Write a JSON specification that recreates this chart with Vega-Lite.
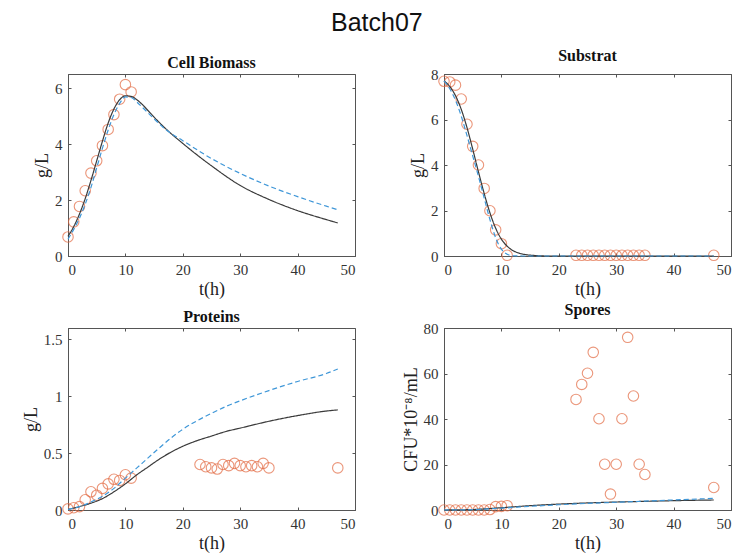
{
  "$schema": "https://vega.github.io/schema/vega-lite/v6.json",
  "padding": {"left": 21, "top": 10, "right": 5, "bottom": 5},
  "background": "white",
  "title": {"text": "Batch07", "font": "Liberation Sans", "fontSize": 25, "fontWeight": "normal", "color": "#111", "anchor": "middle", "offset": 12},
  "datasets": {
    "obs": [
      {"p": "B", "t": 0, "y": 0.68}, {"p": "B", "t": 1, "y": 1.22}, {"p": "B", "t": 2, "y": 1.77}, {"p": "B", "t": 3, "y": 2.33},
      {"p": "B", "t": 4, "y": 2.96}, {"p": "B", "t": 5, "y": 3.40}, {"p": "B", "t": 6, "y": 3.94}, {"p": "B", "t": 7, "y": 4.52},
      {"p": "B", "t": 8, "y": 5.05}, {"p": "B", "t": 9, "y": 5.60}, {"p": "B", "t": 10, "y": 6.12}, {"p": "B", "t": 11, "y": 5.86},
      {"p": "S", "t": 0, "y": 7.68}, {"p": "S", "t": 1, "y": 7.65}, {"p": "S", "t": 2, "y": 7.51}, {"p": "S", "t": 3, "y": 6.9},
      {"p": "S", "t": 4, "y": 5.79}, {"p": "S", "t": 5, "y": 4.82}, {"p": "S", "t": 6, "y": 4.0}, {"p": "S", "t": 7, "y": 2.97},
      {"p": "S", "t": 8, "y": 1.99}, {"p": "S", "t": 9, "y": 1.15}, {"p": "S", "t": 10, "y": 0.54}, {"p": "S", "t": 11, "y": 0.03},
      {"p": "S", "t": 23, "y": 0.03}, {"p": "S", "t": 24, "y": 0.03}, {"p": "S", "t": 25, "y": 0.03}, {"p": "S", "t": 26, "y": 0.03},
      {"p": "S", "t": 27, "y": 0.03}, {"p": "S", "t": 28, "y": 0.03}, {"p": "S", "t": 29, "y": 0.03}, {"p": "S", "t": 30, "y": 0.03},
      {"p": "S", "t": 31, "y": 0.03}, {"p": "S", "t": 32, "y": 0.03}, {"p": "S", "t": 33, "y": 0.03}, {"p": "S", "t": 34, "y": 0.03},
      {"p": "S", "t": 35, "y": 0.03}, {"p": "S", "t": 47, "y": 0.03},
      {"p": "P", "t": 0, "y": 0.01}, {"p": "P", "t": 1, "y": 0.02}, {"p": "P", "t": 2, "y": 0.03}, {"p": "P", "t": 3, "y": 0.09},
      {"p": "P", "t": 4, "y": 0.16}, {"p": "P", "t": 5, "y": 0.13}, {"p": "P", "t": 6, "y": 0.19}, {"p": "P", "t": 7, "y": 0.23},
      {"p": "P", "t": 8, "y": 0.27}, {"p": "P", "t": 9, "y": 0.26}, {"p": "P", "t": 10, "y": 0.31}, {"p": "P", "t": 11, "y": 0.28},
      {"p": "P", "t": 23, "y": 0.40}, {"p": "P", "t": 24, "y": 0.38}, {"p": "P", "t": 25, "y": 0.37}, {"p": "P", "t": 26, "y": 0.36},
      {"p": "P", "t": 27, "y": 0.40}, {"p": "P", "t": 28, "y": 0.39}, {"p": "P", "t": 29, "y": 0.41}, {"p": "P", "t": 30, "y": 0.39},
      {"p": "P", "t": 31, "y": 0.38}, {"p": "P", "t": 32, "y": 0.39}, {"p": "P", "t": 33, "y": 0.38}, {"p": "P", "t": 34, "y": 0.41},
      {"p": "P", "t": 35, "y": 0.37}, {"p": "P", "t": 47, "y": 0.37},
      {"p": "Sp", "t": 0, "y": 0}, {"p": "Sp", "t": 1, "y": 0}, {"p": "Sp", "t": 2, "y": 0}, {"p": "Sp", "t": 3, "y": 0},
      {"p": "Sp", "t": 4, "y": 0}, {"p": "Sp", "t": 5, "y": 0}, {"p": "Sp", "t": 6, "y": 0}, {"p": "Sp", "t": 7, "y": 0},
      {"p": "Sp", "t": 8, "y": 0.2}, {"p": "Sp", "t": 9, "y": 1.5}, {"p": "Sp", "t": 10, "y": 1.6}, {"p": "Sp", "t": 11, "y": 1.9},
      {"p": "Sp", "t": 23, "y": 48.6}, {"p": "Sp", "t": 24, "y": 55.2}, {"p": "Sp", "t": 25, "y": 60.1}, {"p": "Sp", "t": 26, "y": 69.3},
      {"p": "Sp", "t": 27, "y": 40.1}, {"p": "Sp", "t": 28, "y": 20.1}, {"p": "Sp", "t": 29, "y": 7.0}, {"p": "Sp", "t": 30, "y": 20.1},
      {"p": "Sp", "t": 31, "y": 40.1}, {"p": "Sp", "t": 32, "y": 75.9}, {"p": "Sp", "t": 33, "y": 50.1}, {"p": "Sp", "t": 34, "y": 20.1},
      {"p": "Sp", "t": 35, "y": 15.6}, {"p": "Sp", "t": 47, "y": 9.9}
    ],
    "fit": [
      {"p": "B", "m": "m1", "t": 0, "y": 0.70}, {"p": "B", "m": "m1", "t": 1, "y": 1.05}, {"p": "B", "m": "m1", "t": 2, "y": 1.50},
      {"p": "B", "m": "m1", "t": 3, "y": 2.05}, {"p": "B", "m": "m1", "t": 4, "y": 2.70}, {"p": "B", "m": "m1", "t": 5, "y": 3.40},
      {"p": "B", "m": "m1", "t": 6, "y": 4.10}, {"p": "B", "m": "m1", "t": 7, "y": 4.75}, {"p": "B", "m": "m1", "t": 8, "y": 5.25},
      {"p": "B", "m": "m1", "t": 9, "y": 5.58}, {"p": "B", "m": "m1", "t": 10, "y": 5.72}, {"p": "B", "m": "m1", "t": 11, "y": 5.70},
      {"p": "B", "m": "m1", "t": 12, "y": 5.58}, {"p": "B", "m": "m1", "t": 13, "y": 5.40}, {"p": "B", "m": "m1", "t": 14, "y": 5.18},
      {"p": "B", "m": "m1", "t": 15, "y": 4.96}, {"p": "B", "m": "m1", "t": 17, "y": 4.55}, {"p": "B", "m": "m1", "t": 20, "y": 4.02},
      {"p": "B", "m": "m1", "t": 25, "y": 3.22}, {"p": "B", "m": "m1", "t": 30, "y": 2.52}, {"p": "B", "m": "m1", "t": 35, "y": 2.02},
      {"p": "B", "m": "m1", "t": 40, "y": 1.62}, {"p": "B", "m": "m1", "t": 45, "y": 1.30}, {"p": "B", "m": "m1", "t": 47, "y": 1.18},
      {"p": "B", "m": "m2", "t": 0, "y": 0.60}, {"p": "B", "m": "m2", "t": 1, "y": 0.95}, {"p": "B", "m": "m2", "t": 2, "y": 1.35},
      {"p": "B", "m": "m2", "t": 3, "y": 1.85}, {"p": "B", "m": "m2", "t": 4, "y": 2.45}, {"p": "B", "m": "m2", "t": 5, "y": 3.15},
      {"p": "B", "m": "m2", "t": 6, "y": 3.85}, {"p": "B", "m": "m2", "t": 7, "y": 4.50}, {"p": "B", "m": "m2", "t": 8, "y": 5.05},
      {"p": "B", "m": "m2", "t": 9, "y": 5.45}, {"p": "B", "m": "m2", "t": 10, "y": 5.68}, {"p": "B", "m": "m2", "t": 11, "y": 5.66},
      {"p": "B", "m": "m2", "t": 12, "y": 5.50}, {"p": "B", "m": "m2", "t": 13, "y": 5.30}, {"p": "B", "m": "m2", "t": 14, "y": 5.10},
      {"p": "B", "m": "m2", "t": 15, "y": 4.90}, {"p": "B", "m": "m2", "t": 17, "y": 4.52}, {"p": "B", "m": "m2", "t": 20, "y": 4.12},
      {"p": "B", "m": "m2", "t": 25, "y": 3.48}, {"p": "B", "m": "m2", "t": 30, "y": 2.95}, {"p": "B", "m": "m2", "t": 35, "y": 2.50},
      {"p": "B", "m": "m2", "t": 40, "y": 2.12}, {"p": "B", "m": "m2", "t": 45, "y": 1.78}, {"p": "B", "m": "m2", "t": 47, "y": 1.65},
      {"p": "S", "m": "m1", "t": 0, "y": 7.70}, {"p": "S", "m": "m1", "t": 1, "y": 7.45}, {"p": "S", "m": "m1", "t": 2, "y": 7.05},
      {"p": "S", "m": "m1", "t": 3, "y": 6.45}, {"p": "S", "m": "m1", "t": 4, "y": 5.65}, {"p": "S", "m": "m1", "t": 5, "y": 4.70},
      {"p": "S", "m": "m1", "t": 6, "y": 3.70}, {"p": "S", "m": "m1", "t": 7, "y": 2.75}, {"p": "S", "m": "m1", "t": 8, "y": 1.90},
      {"p": "S", "m": "m1", "t": 9, "y": 1.22}, {"p": "S", "m": "m1", "t": 10, "y": 0.74}, {"p": "S", "m": "m1", "t": 11, "y": 0.43},
      {"p": "S", "m": "m1", "t": 12, "y": 0.24}, {"p": "S", "m": "m1", "t": 13, "y": 0.13}, {"p": "S", "m": "m1", "t": 14, "y": 0.07},
      {"p": "S", "m": "m1", "t": 16, "y": 0.02}, {"p": "S", "m": "m1", "t": 18, "y": 0.0}, {"p": "S", "m": "m1", "t": 47, "y": 0.0},
      {"p": "S", "m": "m2", "t": 0, "y": 7.70}, {"p": "S", "m": "m2", "t": 1, "y": 7.35}, {"p": "S", "m": "m2", "t": 2, "y": 6.85},
      {"p": "S", "m": "m2", "t": 3, "y": 6.15}, {"p": "S", "m": "m2", "t": 4, "y": 5.30}, {"p": "S", "m": "m2", "t": 5, "y": 4.40},
      {"p": "S", "m": "m2", "t": 6, "y": 3.50}, {"p": "S", "m": "m2", "t": 7, "y": 2.55}, {"p": "S", "m": "m2", "t": 8, "y": 1.60},
      {"p": "S", "m": "m2", "t": 9, "y": 0.80}, {"p": "S", "m": "m2", "t": 10, "y": 0.30}, {"p": "S", "m": "m2", "t": 11, "y": 0.08},
      {"p": "S", "m": "m2", "t": 12, "y": 0.01}, {"p": "S", "m": "m2", "t": 14, "y": 0.0}, {"p": "S", "m": "m2", "t": 47, "y": 0.0},
      {"p": "P", "m": "m1", "t": 0, "y": 0.005}, {"p": "P", "m": "m1", "t": 2, "y": 0.03}, {"p": "P", "m": "m1", "t": 4, "y": 0.06},
      {"p": "P", "m": "m1", "t": 6, "y": 0.10}, {"p": "P", "m": "m1", "t": 8, "y": 0.16}, {"p": "P", "m": "m1", "t": 10, "y": 0.23},
      {"p": "P", "m": "m1", "t": 12, "y": 0.31}, {"p": "P", "m": "m1", "t": 14, "y": 0.38}, {"p": "P", "m": "m1", "t": 16, "y": 0.45},
      {"p": "P", "m": "m1", "t": 18, "y": 0.51}, {"p": "P", "m": "m1", "t": 20, "y": 0.56}, {"p": "P", "m": "m1", "t": 22.5, "y": 0.61},
      {"p": "P", "m": "m1", "t": 25, "y": 0.65}, {"p": "P", "m": "m1", "t": 27.5, "y": 0.69},
      {"p": "P", "m": "m1", "t": 30, "y": 0.72}, {"p": "P", "m": "m1", "t": 35, "y": 0.78}, {"p": "P", "m": "m1", "t": 40, "y": 0.83},
      {"p": "P", "m": "m1", "t": 45, "y": 0.87}, {"p": "P", "m": "m1", "t": 47, "y": 0.88},
      {"p": "P", "m": "m2", "t": 0, "y": 0.005}, {"p": "P", "m": "m2", "t": 2, "y": 0.03}, {"p": "P", "m": "m2", "t": 4, "y": 0.07},
      {"p": "P", "m": "m2", "t": 6, "y": 0.12}, {"p": "P", "m": "m2", "t": 8, "y": 0.19}, {"p": "P", "m": "m2", "t": 10, "y": 0.28},
      {"p": "P", "m": "m2", "t": 12, "y": 0.37}, {"p": "P", "m": "m2", "t": 14, "y": 0.46}, {"p": "P", "m": "m2", "t": 16, "y": 0.55},
      {"p": "P", "m": "m2", "t": 18, "y": 0.635}, {"p": "P", "m": "m2", "t": 20, "y": 0.71}, {"p": "P", "m": "m2", "t": 22.5, "y": 0.785},
      {"p": "P", "m": "m2", "t": 25, "y": 0.85}, {"p": "P", "m": "m2", "t": 27.5, "y": 0.91},
      {"p": "P", "m": "m2", "t": 30, "y": 0.96}, {"p": "P", "m": "m2", "t": 35, "y": 1.05}, {"p": "P", "m": "m2", "t": 40, "y": 1.13},
      {"p": "P", "m": "m2", "t": 45, "y": 1.20}, {"p": "P", "m": "m2", "t": 47, "y": 1.24},
      {"p": "Sp", "m": "m1", "t": 0, "y": 0}, {"p": "Sp", "m": "m1", "t": 5, "y": 0.2}, {"p": "Sp", "m": "m1", "t": 10, "y": 1.0},
      {"p": "Sp", "m": "m1", "t": 15, "y": 1.9}, {"p": "Sp", "m": "m1", "t": 20, "y": 2.6}, {"p": "Sp", "m": "m1", "t": 25, "y": 3.1},
      {"p": "Sp", "m": "m1", "t": 30, "y": 3.5}, {"p": "Sp", "m": "m1", "t": 35, "y": 3.8}, {"p": "Sp", "m": "m1", "t": 40, "y": 4.1},
      {"p": "Sp", "m": "m1", "t": 47, "y": 4.4},
      {"p": "Sp", "m": "m2", "t": 0, "y": 0}, {"p": "Sp", "m": "m2", "t": 5, "y": 0.15}, {"p": "Sp", "m": "m2", "t": 10, "y": 0.8},
      {"p": "Sp", "m": "m2", "t": 15, "y": 1.6}, {"p": "Sp", "m": "m2", "t": 20, "y": 2.3}, {"p": "Sp", "m": "m2", "t": 25, "y": 2.9},
      {"p": "Sp", "m": "m2", "t": 30, "y": 3.4}, {"p": "Sp", "m": "m2", "t": 35, "y": 3.9}, {"p": "Sp", "m": "m2", "t": 40, "y": 4.4},
      {"p": "Sp", "m": "m2", "t": 47, "y": 5.1}
    ]
  },
  "columns": 2,
  "bounds": "flush",
  "spacing": {"row": 72, "column": 89},
  "concat": [
    {
      "width": 287, "height": 182,
      "title": "Cell Biomass",
      "resolve": {"axis": {"x": "independent", "y": "independent"}},
      "layer": [
        {"data": {"name": "obs"}, "transform": [{"filter": "datum.p == 'B'"}],
         "mark": {"type": "point", "shape": "circle", "size": 110, "strokeWidth": 1.1, "color": "#E36A42"},
         "encoding": {"x": {"field": "t", "type": "quantitative", "scale": {"domain": [0, 50]}, "axis": {"title": "t(h)", "values": [0, 10, 20, 30, 40, 50]}},
                      "y": {"field": "y", "type": "quantitative", "scale": {"domain": [0, 6.15]}, "axis": {"title": "g/L", "values": [0, 2, 4, 6]}}}},
        {"data": {"name": "fit"}, "transform": [{"filter": "datum.p == 'B'"}],
         "mark": {"type": "line", "interpolate": "monotone", "strokeWidth": 1.2},
         "encoding": {"x": {"field": "t", "type": "quantitative", "axis": null}, "y": {"field": "y", "type": "quantitative", "axis": null},
                      "color": {"field": "m", "type": "nominal", "scale": {"domain": ["m1", "m2"], "range": ["#3a3a3a", "#3F97D8"]}, "legend": null},
                      "strokeDash": {"field": "m", "type": "nominal", "scale": {"domain": ["m1", "m2"], "range": [[1, 0], [5, 3]]}, "legend": null}}},
        {"data": {"name": "obs"}, "transform": [{"filter": "datum.p == 'B'"}],
         "mark": {"type": "point", "opacity": 0},
         "encoding": {"x": {"field": "t", "type": "quantitative", "axis": {"orient": "top", "labels": false, "title": null, "domain": false, "values": [0, 10, 20, 30, 40, 50]}},
                      "y": {"field": "y", "type": "quantitative", "axis": {"orient": "right", "labels": false, "title": null, "domain": false, "values": [0, 2, 4, 6]}}}}
      ]
    },
    {
      "width": 287, "height": 182,
      "title": "Substrat",
      "resolve": {"axis": {"x": "independent", "y": "independent"}},
      "layer": [
        {"data": {"name": "obs"}, "transform": [{"filter": "datum.p == 'S'"}],
         "mark": {"type": "point", "shape": "circle", "size": 110, "strokeWidth": 1.1, "color": "#E36A42"},
         "encoding": {"x": {"field": "t", "type": "quantitative", "scale": {"domain": [0, 50]}, "axis": {"title": "t(h)", "values": [0, 10, 20, 30, 40, 50]}},
                      "y": {"field": "y", "type": "quantitative", "scale": {"domain": [0, 8]}, "axis": {"title": "g/L", "values": [0, 2, 4, 6, 8]}}}},
        {"data": {"name": "fit"}, "transform": [{"filter": "datum.p == 'S'"}],
         "mark": {"type": "line", "interpolate": "monotone", "strokeWidth": 1.2},
         "encoding": {"x": {"field": "t", "type": "quantitative", "axis": null}, "y": {"field": "y", "type": "quantitative", "axis": null},
                      "color": {"field": "m", "type": "nominal", "scale": {"domain": ["m1", "m2"], "range": ["#3a3a3a", "#3F97D8"]}, "legend": null},
                      "strokeDash": {"field": "m", "type": "nominal", "scale": {"domain": ["m1", "m2"], "range": [[1, 0], [5, 3]]}, "legend": null}}},
        {"data": {"name": "obs"}, "transform": [{"filter": "datum.p == 'S'"}],
         "mark": {"type": "point", "opacity": 0},
         "encoding": {"x": {"field": "t", "type": "quantitative", "axis": {"orient": "top", "labels": false, "title": null, "domain": false, "values": [0, 10, 20, 30, 40, 50]}},
                      "y": {"field": "y", "type": "quantitative", "axis": {"orient": "right", "labels": false, "title": null, "domain": false, "values": [0, 2, 4, 6, 8]}}}}
      ]
    },
    {
      "width": 287, "height": 182,
      "title": "Proteins",
      "resolve": {"axis": {"x": "independent", "y": "independent"}},
      "layer": [
        {"data": {"name": "obs"}, "transform": [{"filter": "datum.p == 'P'"}],
         "mark": {"type": "point", "shape": "circle", "size": 110, "strokeWidth": 1.1, "color": "#E36A42"},
         "encoding": {"x": {"field": "t", "type": "quantitative", "scale": {"domain": [0, 50]}, "axis": {"title": "t(h)", "values": [0, 10, 20, 30, 40, 50]}},
                      "y": {"field": "y", "type": "quantitative", "scale": {"domain": [0, 1.5]}, "axis": {"title": "g/L", "values": [0, 0.5, 1, 1.5], "format": "~g"}}}},
        {"data": {"name": "fit"}, "transform": [{"filter": "datum.p == 'P'"}],
         "mark": {"type": "line", "interpolate": "monotone", "strokeWidth": 1.2},
         "encoding": {"x": {"field": "t", "type": "quantitative", "axis": null}, "y": {"field": "y", "type": "quantitative", "axis": null},
                      "color": {"field": "m", "type": "nominal", "scale": {"domain": ["m1", "m2"], "range": ["#3a3a3a", "#3F97D8"]}, "legend": null},
                      "strokeDash": {"field": "m", "type": "nominal", "scale": {"domain": ["m1", "m2"], "range": [[1, 0], [5, 3]]}, "legend": null}}},
        {"data": {"name": "obs"}, "transform": [{"filter": "datum.p == 'P'"}],
         "mark": {"type": "point", "opacity": 0},
         "encoding": {"x": {"field": "t", "type": "quantitative", "axis": {"orient": "top", "labels": false, "title": null, "domain": false, "values": [0, 10, 20, 30, 40, 50]}},
                      "y": {"field": "y", "type": "quantitative", "axis": {"orient": "right", "labels": false, "title": null, "domain": false, "values": [0, 0.5, 1, 1.5]}}}}
      ]
    },
    {
      "width": 287, "height": 182,
      "title": "Spores",
      "resolve": {"axis": {"x": "independent", "y": "independent"}},
      "layer": [
        {"data": {"name": "obs"}, "transform": [{"filter": "datum.p == 'Sp'"}],
         "mark": {"type": "point", "shape": "circle", "size": 110, "strokeWidth": 1.1, "color": "#E36A42"},
         "encoding": {"x": {"field": "t", "type": "quantitative", "scale": {"domain": [0, 50]}, "axis": {"title": "t(h)", "values": [0, 10, 20, 30, 40, 50]}},
                      "y": {"field": "y", "type": "quantitative", "scale": {"domain": [0, 80]}, "axis": {"title": "CFU*10⁻⁸/mL", "values": [0, 20, 40, 60, 80]}}}},
        {"data": {"name": "fit"}, "transform": [{"filter": "datum.p == 'Sp'"}],
         "mark": {"type": "line", "interpolate": "monotone", "strokeWidth": 1.2},
         "encoding": {"x": {"field": "t", "type": "quantitative", "axis": null}, "y": {"field": "y", "type": "quantitative", "axis": null},
                      "color": {"field": "m", "type": "nominal", "scale": {"domain": ["m1", "m2"], "range": ["#3a3a3a", "#3F97D8"]}, "legend": null},
                      "strokeDash": {"field": "m", "type": "nominal", "scale": {"domain": ["m1", "m2"], "range": [[1, 0], [5, 3]]}, "legend": null}}},
        {"data": {"name": "obs"}, "transform": [{"filter": "datum.p == 'Sp'"}],
         "mark": {"type": "point", "opacity": 0},
         "encoding": {"x": {"field": "t", "type": "quantitative", "axis": {"orient": "top", "labels": false, "title": null, "domain": false, "values": [0, 10, 20, 30, 40, 50]}},
                      "y": {"field": "y", "type": "quantitative", "axis": {"orient": "right", "labels": false, "title": null, "domain": false, "values": [0, 20, 40, 60, 80]}}}}
      ]
    }
  ],
  "config": {
    "view": {"stroke": "#555555", "strokeWidth": 1},
    "title": {"font": "Liberation Serif", "fontSize": 16, "fontWeight": "bold", "color": "#111", "offset": 3},
    "axis": {
      "grid": false,
      "domainColor": "#555555",
      "tickColor": "#555555",
      "tickSize": -3,
      "labelPadding": 9,
      "labelFont": "Liberation Serif",
      "labelFontSize": 15,
      "labelColor": "#333333",
      "titleFont": "Liberation Serif",
      "titleFontSize": 18,
      "titleFontWeight": "normal",
      "titleColor": "#222222",
      "titlePadding": 3
    }
  }
}
